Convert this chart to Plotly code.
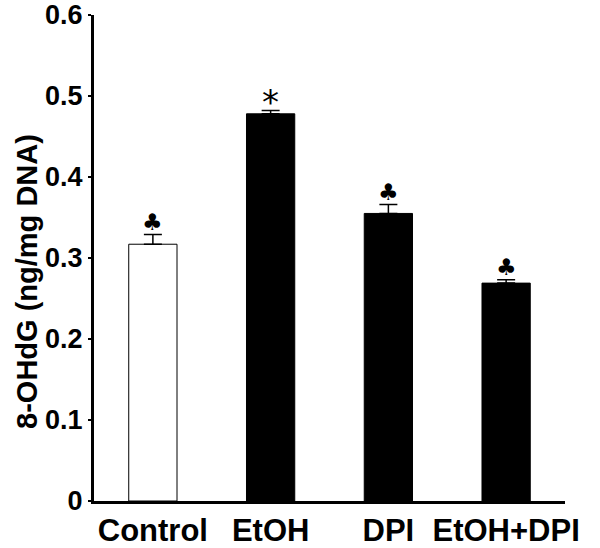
import plotly.graph_objects as go

categories = ["Control", "EtOH", "DPI", "EtOH+DPI"]
values = [0.317, 0.478, 0.355, 0.269]
errors = [0.012, 0.004, 0.011, 0.004]
markers = ["♣", "*", "♣", "♣"]
fills = ["white", "black", "black", "black"]
ytick_vals = [0, 0.1, 0.2, 0.3, 0.4, 0.5, 0.6]
ytick_text = ["0", "0.1", "0.2", "0.3", "0.4", "0.5", "0.6"]

FONT = "Liberation Sans, Arial, sans-serif"

fig = go.Figure()
fig.add_trace(go.Bar(
    x=categories, y=values,
    width=0.41,
    marker=dict(color=fills, line=dict(color="black", width=1)),
    error_y=dict(type="data", array=errors, arrayminus=[0]*4, symmetric=False,
                 color="black", thickness=1.5, width=9),
    showlegend=False,
))

for c, v, e, m in zip(categories, values, errors, markers):
    fig.add_annotation(
        x=c, y=v + e, text=m, showarrow=False,
        yanchor="bottom", yshift=(-13 if m == "*" else -2),
        font=dict(family="DejaVu Sans, " + FONT, size=(34 if m == "*" else 23), color="black"),
    )

fig.add_annotation(
    xref="paper", yref="paper", x=-0.142, y=0.451,
    xanchor="center", yanchor="middle",
    text="<b>8-OHdG (ng/mg DNA)</b>", textangle=-90, showarrow=False,
    font=dict(family=FONT, size=29, color="black"),
)

fig.update_layout(
    width=600, height=548,
    margin=dict(l=94, r=35, t=15, b=47, autoexpand=False),
    paper_bgcolor="white", plot_bgcolor="white",
)
fig.update_xaxes(
    range=[-0.5, 3.5], showline=True, linecolor="black", linewidth=3,
    ticks="", showgrid=False, zeroline=False, automargin=False,
    tickfont=dict(family=FONT, size=31, color="black"),
    tickprefix="<b>", ticksuffix="</b>",
)
fig.update_yaxes(
    range=[0, 0.6], showline=True, linecolor="black", linewidth=3,
    tickvals=ytick_vals, ticktext=["<b>%s</b>" % t for t in ytick_text],
    ticks="outside", ticklen=3, tickwidth=2, tickcolor="black",
    showgrid=False, zeroline=False, automargin=False,
    ticklabeloverflow="allow",
    tickfont=dict(family=FONT, size=27, color="black"),
)

fig.write_html("out.html", config={"displayModeBar": False},
               post_script="document.body.style.margin='0';document.body.style.overflow='hidden';")
